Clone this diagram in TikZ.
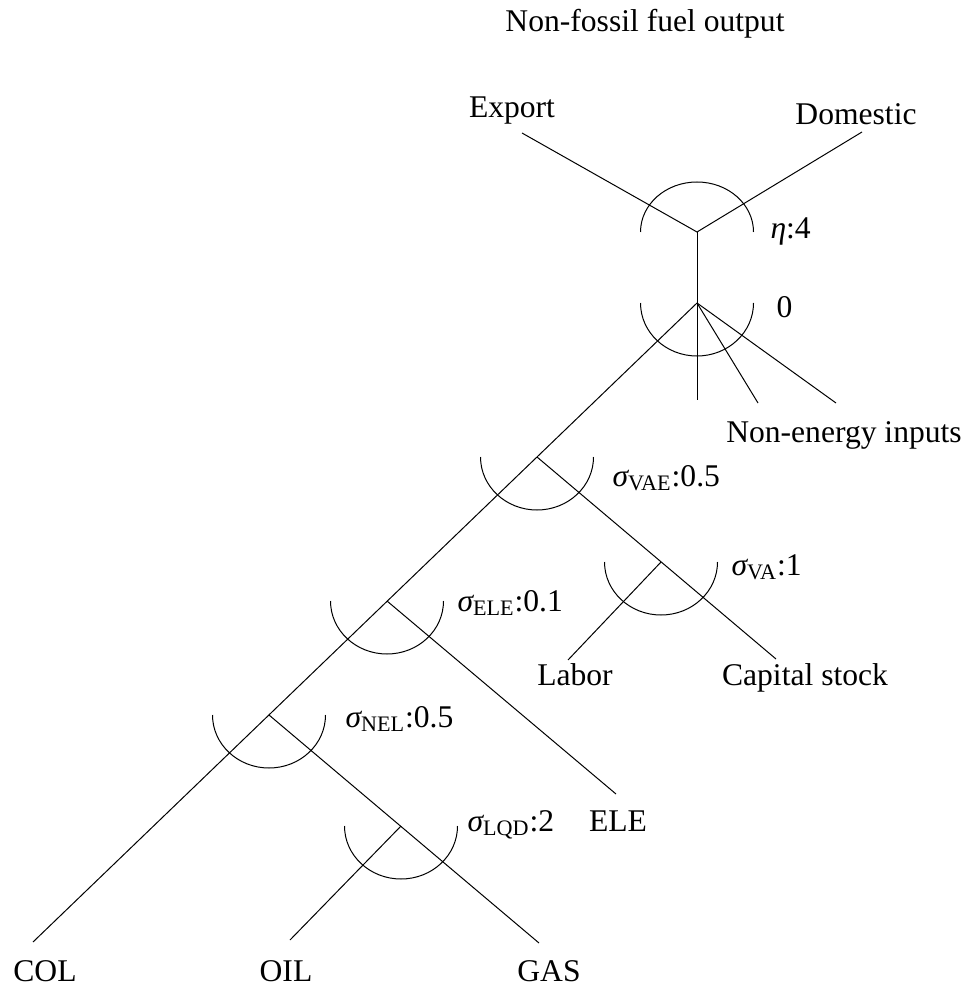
\documentclass[tikz,border=0pt]{standalone}
\usepackage{fontspec}
\setmainfont{Liberation Serif}
\begin{document}
\begin{tikzpicture}[x=0.5pt,y=-0.5pt,line width=0.5pt,
        lbl/.style={inner sep=0pt,font=\fontsize{15.8}{19}\selectfont}]
            \useasboundingbox (0,0) rectangle (971,989);

            % Place the nests
            \coordinate (out) at (697,232);
            \coordinate (ne) at (697,303);
            \coordinate (vae) at (537,457);
            \coordinate (va) at (661,562);
            \coordinate (ele) at (387,601);
            \coordinate (nel) at (269,715);
            \coordinate (lqd) at (401,826);

            % Place the loose ends
            \coordinate (exp) at (522,133);
            \coordinate (dom) at (862,132);
            \coordinate (ne1) at (697,400);
            \coordinate (ne2) at (758,403);
            \coordinate (ne3) at (836,403);
            \coordinate (lab) at (568,660);
            \coordinate (cap) at (776,659);
            \coordinate (elec) at (616,794);
            \coordinate (col) at (33,942);
            \coordinate (oil) at (290,940);
            \coordinate (gas) at (539,943);

            % The labels
            \node[lbl,anchor=base] (title) at (645,32) {Non-fossil fuel output};
            \node[lbl,anchor=base] (export) at (512,118) {Export};
            \node[lbl,anchor=base] (domestic) at (856,125) {Domestic};
            \node[lbl,anchor=base west] (eta) at (770,239) {{\itshape η}:4};
            \node[lbl,anchor=base west] (zero) at (776,318) {0};
            \node[lbl,anchor=base] (nonen) at (844,442) {Non-energy inputs};
            \node[lbl,anchor=base west] (svae) at (612,486) {{\itshape σ}\textsubscript{VAE}:0.5};
            \node[lbl,anchor=base west] (sva) at (731,575) {{\itshape σ}\textsubscript{VA}:1};
            \node[lbl,anchor=base west] (sele) at (457,611) {{\itshape σ}\textsubscript{ELE}:0.1};
            \node[lbl,anchor=base] (labor) at (575,685) {Labor};
            \node[lbl,anchor=base] (capital) at (805,685) {Capital stock};
            \node[lbl,anchor=base west] (snel) at (345,727) {{\itshape σ}\textsubscript{NEL}:0.5};
            \node[lbl,anchor=base west] (slqd) at (467,831) {{\itshape σ}\textsubscript{LQD}:2};
            \node[lbl,anchor=base] (eletxt) at (618,831) {ELE};
            \node[lbl,anchor=base] (coltxt) at (45,981) {COL};
            \node[lbl,anchor=base] (oiltxt) at (286,981) {OIL};
            \node[lbl,anchor=base] (gastxt) at (549,981) {GAS};

            % The lines!
            \draw (exp) -- (out) -- (dom);
            \draw (out) -- (ne);
            \draw (ne) -- (col);
            \draw (ne) -- (ne1);
            \draw (ne) -- (ne2);
            \draw (ne) -- (ne3);
            \draw (vae) -- (cap);
            \draw (va) -- (lab);
            \draw (ele) -- (elec);
            \draw (nel) -- (gas);
            \draw (lqd) -- (oil);

            % The arcs
            \draw ([xshift=-28.25pt]out) arc[start angle=180,end angle=0,x radius=28.25pt,y radius=25pt];
            \draw ([xshift=-28.25pt]ne) arc[start angle=180,end angle=360,x radius=28.25pt,y radius=26.5pt];
            \draw ([xshift=-28.25pt]vae) arc[start angle=180,end angle=360,x radius=28.25pt,y radius=26.5pt];
            \draw ([xshift=-28.25pt]va) arc[start angle=180,end angle=360,x radius=28.25pt,y radius=26.5pt];
            \draw ([xshift=-28.25pt]ele) arc[start angle=180,end angle=360,x radius=28.25pt,y radius=26.5pt];
            \draw ([xshift=-28.25pt]nel) arc[start angle=180,end angle=360,x radius=28.25pt,y radius=26.5pt];
            \draw ([xshift=-28.25pt]lqd) arc[start angle=180,end angle=360,x radius=28.25pt,y radius=26.5pt];
        \end{tikzpicture}
\end{document}
